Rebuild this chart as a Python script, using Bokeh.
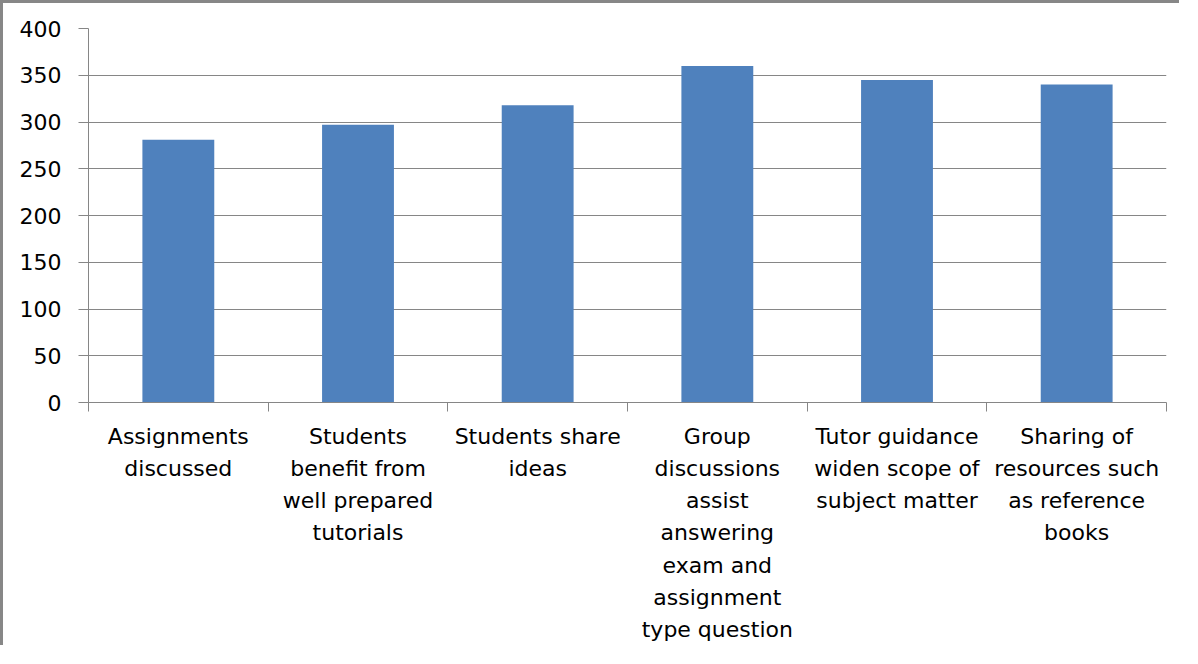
import numpy as np
from bokeh.plotting import figure
from bokeh.models import Range1d, FixedTicker
from bokeh.embed import file_html
from bokeh.resources import INLINE

categories = [
    "Assignments\ndiscussed",
    "Students\nbenefit from\nwell prepared\ntutorials",
    "Students share\nideas",
    "Group\ndiscussions\nassist\nanswering\nexam and\nassignment\ntype question",
    "Tutor guidance\nwiden scope of\nsubject matter",
    "Sharing of\nresources such\nas reference\nbooks",
]
values = [281, 297, 318, 360, 345, 340]
y_ticks = [0, 50, 100, 150, 200, 250, 300, 350, 400]

FONT = "DejaVu Sans"
GRID = "#868686"
BAR = "#4F81BD"

n = len(categories)
centers = np.arange(n) + 0.5

p = figure(width=1179, height=645, output_backend="svg", toolbar_location=None,
           x_range=Range1d(0, n), y_range=Range1d(0, 400),
           min_border_left=85, min_border_right=16, min_border_top=25, min_border_bottom=246)
p.styles = {"border-top": "3px solid #878787", "border-left": "3px solid #878787"}
p.outline_line_color = None
p.background_fill_color = "white"
p.border_fill_color = "white"

p.vbar(x=centers, top=values, width=0.4, bottom=0, fill_color=BAR, line_color=None)

# y axis
p.yaxis.ticker = FixedTicker(ticks=y_ticks, minor_ticks=[])
p.yaxis.axis_line_color = GRID
p.yaxis.major_tick_line_color = GRID
p.yaxis.major_tick_out = 10
p.yaxis.major_tick_in = 0
p.yaxis.minor_tick_line_color = None
p.yaxis.major_label_standoff = 17
p.yaxis.major_label_text_font = FONT
p.yaxis.major_label_text_font_size = "22px"
p.yaxis.major_label_text_color = "black"

# x axis
p.xaxis.ticker = FixedTicker(ticks=list(centers), minor_ticks=list(range(n + 1)))
p.xaxis.major_label_overrides = {float(c): lab for c, lab in zip(centers, categories)}
p.xaxis.axis_line_color = GRID
p.xaxis.major_tick_line_color = None
p.xaxis.major_tick_out = 0
p.xaxis.major_tick_in = 0
p.xaxis.minor_tick_line_color = GRID
p.xaxis.minor_tick_out = 9
p.xaxis.minor_tick_in = 0
p.xaxis.major_label_standoff = 12
p.xaxis.major_label_text_font = FONT
p.xaxis.major_label_text_font_size = "22px"
p.xaxis.major_label_text_color = "black"
p.xaxis.major_label_text_line_height = 1.29

p.xgrid.grid_line_color = None
p.ygrid.grid_line_color = GRID
p.ygrid.grid_line_width = 1

open("out.html", "w").write(file_html(p, INLINE))
